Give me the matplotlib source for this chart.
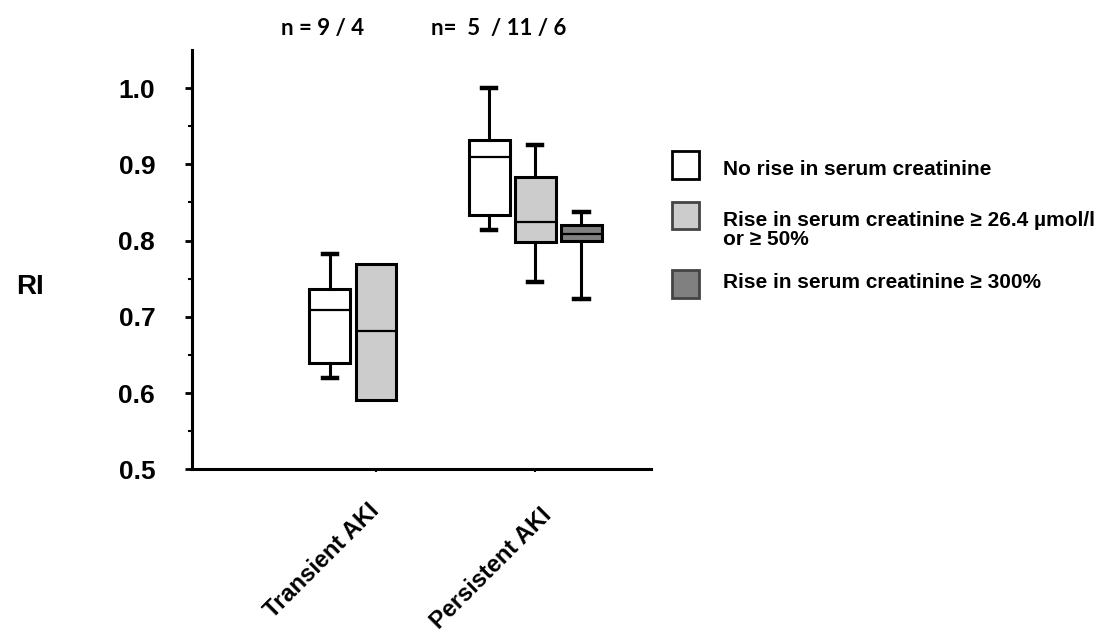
import matplotlib
matplotlib.use("Agg")
import matplotlib.pyplot as plt
from matplotlib.patches import Rectangle
from matplotlib.transforms import ScaledTranslation

# ---- data ----
categories = ["Transient AKI", "Persistent AKI"]
series = ["No rise in serum creatinine",
          "Rise in serum creatinine \u2265 26.4 \u00b5mol/l\nor \u2265 50%",
          "Rise in serum creatinine \u2265 300%"]
fills = ["#ffffff", "#cccccc", "#808080"]
# (category index, series index, whislo, q1, med, q3, whishi)
cat_idx   = [0, 0, 1, 1, 1]
ser_idx   = [0, 1, 0, 1, 2]
whislo    = [0.620, 0.591, 0.814, 0.746, 0.723]
q1        = [0.640, 0.591, 0.834, 0.798, 0.800]
med       = [0.709, 0.682, 0.909, 0.825, 0.809]
q3        = [0.737, 0.769, 0.932, 0.883, 0.820]
whishi    = [0.783, 0.769, 1.000, 0.926, 0.837]
box_offsets = {0: -0.289, 1: 0.0, 2: 0.289}
n_labels = ["n = 9 / 4", "n=  5  / 11 / 6"]
yticks = [0.5, 0.6, 0.7, 0.8, 0.9, 1.0]

plt.rcParams['font.family'] = ['Liberation Sans', 'DejaVu Sans']

fig = plt.figure(figsize=(11.02, 6.37), dpi=100)
ax = fig.add_axes([0.1742, 0.2633, 0.4165, 0.6582])

for c, s, lo, a, m, b, hi in zip(cat_idx, ser_idx, whislo, q1, med, q3, whishi):
    st = dict(whislo=lo, q1=a, med=m, q3=b, whishi=hi, fliers=[])
    pos = c + 1 + box_offsets[s]
    has_whiskers = not (lo == a and hi == b)
    ax.bxp([st], positions=[pos], widths=0.257, patch_artist=True,
           showfliers=False, showcaps=has_whiskers,
           boxprops=dict(facecolor=fills[s], edgecolor="black", linewidth=2.2),
           medianprops=dict(color="black", linewidth=1.6),
           whiskerprops=dict(color="black", linewidth=2.2),
           capprops=dict(color="black", linewidth=3.2),
           capwidths=0.09)

ax.set_xlim(-0.155, 2.726)
ax.set_ylim(0.5, 1.05)
ax.set_yticks(yticks)
ax.set_yticklabels([f"{v:.1f}" for v in yticks])
ax.set_yticks([0.55, 0.65, 0.75, 0.85, 0.95], minor=True)
ax.set_xticks([1, 2])
ax.set_xticklabels(["", ""])

# rotated category labels (offsets in pixels: right, down)
label_offsets = [(0, 38), (13, 42)]
for i, (cat, (dx, dy)) in enumerate(zip(categories, label_offsets)):
    tr = ax.get_xaxis_transform() + ScaledTranslation(dx / 100, -dy / 100, fig.dpi_scale_trans)
    ax.text(i + 1, 0, cat, transform=tr, rotation=45, rotation_mode="anchor",
            ha="right", va="center", fontsize=17, fontweight="bold")

ax.tick_params(axis="y", which="major", direction="out", length=5, width=2,
               pad=21.5, labelsize=19)
ax.tick_params(axis="y", which="minor", direction="out", length=3, width=1.5)
ax.tick_params(axis="x", which="major", direction="out", length=2.5, width=1.5)
for lab in ax.get_yticklabels():
    lab.set_fontweight("bold")

for side in ["top", "right"]:
    ax.spines[side].set_visible(False)
for side in ["left", "bottom"]:
    ax.spines[side].set_linewidth(2.2)

ax.set_ylabel("RI", rotation=0, fontsize=20, fontweight="bold", ha="center", va="center")
ax.yaxis.set_label_coords(-0.353, 0.435)

# n labels above the groups
for x, t in zip([322.5 / 1102, 498.5 / 1102], n_labels):
    fig.text(x, 1 - 29 / 637, t, ha="center", va="center", fontsize=16,
             fontweight="bold", family=["Lato", "DejaVu Sans"])

# legend (manual)
sq_y = [165, 215, 284]
txt_y = [169, 230, 282]
sq = 27
for i, (sy, ty) in enumerate(zip(sq_y, txt_y)):
    fig.patches.append(Rectangle((671.7 / 1102, 1 - (sy + sq / 2) / 637),
                                 sq / 1102, sq / 637, transform=fig.transFigure,
                                 facecolor=fills[i], edgecolor="black" if i == 0 else "#444444",
                                 linewidth=2))
    fig.text(723 / 1102, 1 - ty / 637, series[i], ha="left", va="center",
             fontsize=15, fontweight="bold", linespacing=1.05)

fig.savefig("out.png", dpi=100)
